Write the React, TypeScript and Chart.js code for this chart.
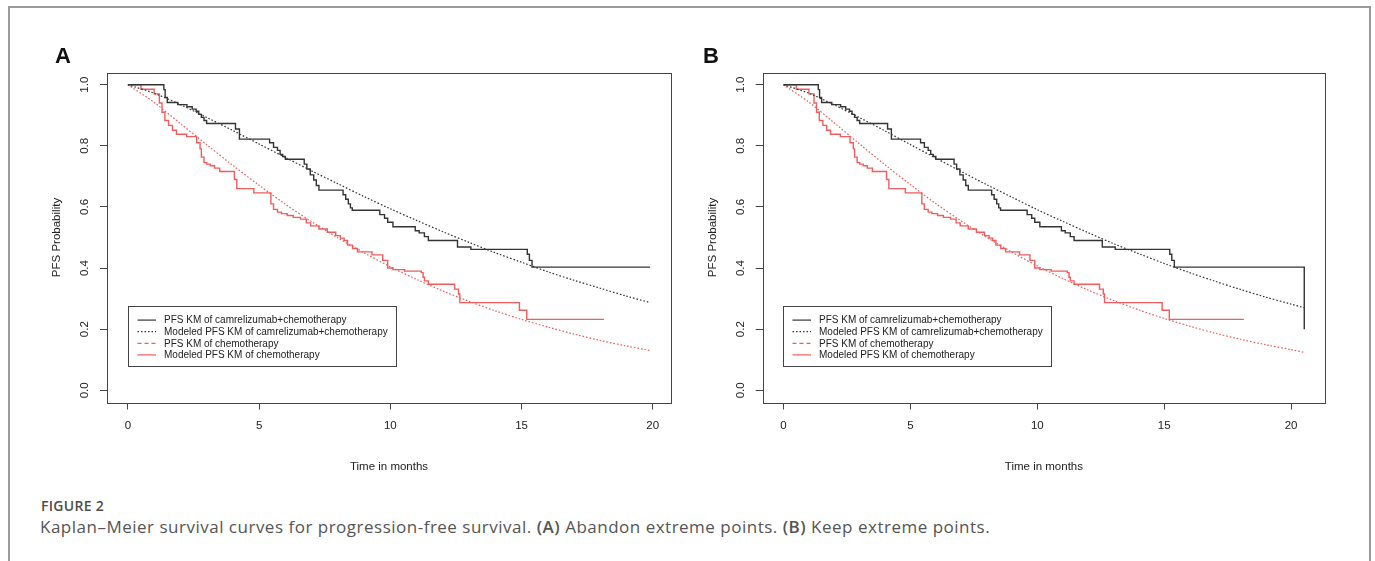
import React, { useEffect, useRef } from "react";
import { Chart, registerables } from "chart.js";

Chart.register(...registerables);

// ---------------- data ----------------
const kmMonthsCam = [0, 1.37, 1.42, 1.5, 1.9, 2.25, 2.45, 2.6, 2.7, 2.8, 2.9, 3.0, 4.1, 4.25, 5.4, 5.55, 5.7, 5.8, 5.9, 6.0, 6.72, 6.82, 6.95, 7.08, 7.18, 7.28, 8.2, 8.3, 8.4, 8.48, 8.55, 9.6, 9.78, 9.9, 10.1, 10.95, 11.1, 11.3, 11.45, 12.56, 13.07, 15.22, 15.3, 15.4];
const kmSurvCam = [1, 0.984, 0.958, 0.942, 0.935, 0.928, 0.92, 0.913, 0.903, 0.893, 0.883, 0.873, 0.855, 0.822, 0.81, 0.795, 0.785, 0.772, 0.765, 0.756, 0.74, 0.724, 0.705, 0.688, 0.67, 0.655, 0.64, 0.625, 0.61, 0.597, 0.589, 0.575, 0.563, 0.55, 0.535, 0.522, 0.515, 0.503, 0.49, 0.469, 0.461, 0.445, 0.425, 0.403];

const kmMonthsChemo = [0, 0.5, 1.0, 1.2, 1.3, 1.41, 1.55, 1.7, 1.85, 2.24, 2.62, 2.75, 2.8, 2.9, 3.0, 3.14, 3.3, 3.5, 4.06, 4.15, 4.8, 5.45, 5.55, 5.7, 5.85, 6.07, 6.3, 6.58, 6.8, 6.96, 7.28, 7.6, 7.92, 8.1, 8.24, 8.37, 8.56, 8.75, 9.3, 9.71, 9.9, 10.1, 10.55, 11.18, 11.25, 11.3, 11.45, 12.45, 12.6, 12.65, 14.92, 15.2];
const kmSurvChemo = [1, 0.985, 0.97, 0.94, 0.91, 0.883, 0.867, 0.851, 0.838, 0.83, 0.81, 0.79, 0.763, 0.745, 0.74, 0.735, 0.727, 0.716, 0.69, 0.66, 0.646, 0.61, 0.592, 0.583, 0.578, 0.572, 0.566, 0.56, 0.548, 0.538, 0.528, 0.517, 0.506, 0.498, 0.49, 0.475, 0.464, 0.453, 0.443, 0.425, 0.4, 0.395, 0.39, 0.385, 0.37, 0.358, 0.347, 0.331, 0.315, 0.287, 0.262, 0.232];

const lastFollowUpCamA = 19.9;
const lastFollowUpChemo = 18.14;
const extremeMonthB = 20.52;
const extremeSurvCamB = 0.2;

const modelMonthsA = [0, 1, 2, 3, 4, 5, 6, 7, 8, 9, 10, 11, 12, 13, 14, 15, 16, 17, 18, 19, 19.9];
const modelCamA = [1, 0.972, 0.935, 0.893, 0.85, 0.806, 0.762, 0.718, 0.676, 0.634, 0.594, 0.556, 0.519, 0.484, 0.45, 0.419, 0.388, 0.36, 0.334, 0.308, 0.287];
const modelChemoA = [1, 0.942, 0.873, 0.804, 0.736, 0.671, 0.609, 0.552, 0.499, 0.45, 0.404, 0.363, 0.325, 0.291, 0.26, 0.232, 0.207, 0.184, 0.163, 0.145, 0.13];

const modelMonthsB = [0, 1, 2, 3, 4, 5, 6, 7, 8, 9, 10, 11, 12, 13, 14, 15, 16, 17, 18, 19, 20, 20.52];
const modelCamB = [1, 0.972, 0.934, 0.892, 0.849, 0.804, 0.76, 0.716, 0.673, 0.632, 0.591, 0.553, 0.516, 0.48, 0.447, 0.415, 0.385, 0.357, 0.33, 0.305, 0.282, 0.27];
const modelChemoB = [1, 0.943, 0.875, 0.806, 0.738, 0.673, 0.611, 0.554, 0.501, 0.452, 0.407, 0.366, 0.328, 0.294, 0.263, 0.235, 0.21, 0.187, 0.167, 0.149, 0.133, 0.124];

const xTickValues = [0, 5, 10, 15, 20];
const yTickValues = [0, 0.2, 0.4, 0.6, 0.8, 1.0];
const yTickLabels = ["0.0", "0.2", "0.4", "0.6", "0.8", "1.0"];

const seriesLabels = [
  "PFS KM of camrelizumab+chemotherapy",
  "Modeled PFS KM of camrelizumab+chemotherapy",
  "PFS KM of chemotherapy",
  "Modeled PFS KM of chemotherapy",
];

// ---------------- styling ----------------
const BLACK = "#343434";
const RED = "#f25c5c";
const AXIS = "#444444";
const TEXT = "#222222";
const FONT = "'Liberation Sans', Arial, Helvetica, sans-serif";

const legendStyles = [
  { color: BLACK, dash: [] as number[], width: 1.2 },
  { color: BLACK, dash: [1.5, 2], width: 1.2 },
  { color: RED, dash: [4, 3], width: 1.2 },
  { color: RED, dash: [] as number[], width: 1.2 },
];

const toPoints = (xs: number[], ys: number[]) => xs.map((x, i) => ({ x, y: ys[i] }));

const decorPlugin = {
  id: "rDecor",
  afterDraw(chart: any) {
    const { ctx, chartArea: ca, scales } = chart;
    ctx.save();
    // plot box
    ctx.strokeStyle = AXIS;
    ctx.lineWidth = 1;
    ctx.setLineDash([]);
    ctx.strokeRect(Math.round(ca.left) + 0.5, Math.round(ca.top) + 0.5, Math.round(ca.right - ca.left), Math.round(ca.bottom - ca.top));

    // rotated y tick labels (R style)
    const ys = scales.y;
    ctx.fillStyle = TEXT;
    ctx.font = `11.5px ${FONT}`;
    ctx.textAlign = "center";
    ctx.textBaseline = "middle";
    yTickValues.forEach((v, i) => {
      const y = ys.getPixelForValue(v);
      ctx.save();
      ctx.translate(ca.left - 22, y);
      ctx.rotate(-Math.PI / 2);
      ctx.fillText(yTickLabels[i], 0, 0);
      ctx.restore();
    });

    // legend box
    const lx = Math.round(ca.left + 20.5) + 0.5;
    const ly = Math.round(ca.top + 233) + 0.5;
    const lw = 268;
    const lh = 60;
    ctx.strokeStyle = AXIS;
    ctx.lineWidth = 1;
    ctx.strokeRect(lx, ly, lw, lh);
    ctx.font = `10px ${FONT}`;
    ctx.textAlign = "left";
    ctx.textBaseline = "middle";
    chart.data.datasets.forEach((ds: any, i: number) => {
      const st = legendStyles[i];
      const cy = ly + 13.6 + i * 11.6;
      ctx.strokeStyle = st.color;
      ctx.lineWidth = st.width;
      ctx.setLineDash(st.dash);
      ctx.beginPath();
      ctx.moveTo(lx + 9, cy);
      ctx.lineTo(lx + 27.5, cy);
      ctx.stroke();
      ctx.setLineDash([]);
      ctx.fillStyle = TEXT;
      ctx.fillText(ds.label, lx + 35.5, cy + 0.5);
    });
    ctx.restore();
  },
};

type PanelProps = {
  keepExtreme: boolean;
  left: number;
  padLeft: number;
  padRight: number;
  xMin: number;
  xMax: number;
};

const CANVAS_W = 680;
const CANVAS_H = 490;

function Panel({ keepExtreme, left, padLeft, padRight, xMin, xMax }: PanelProps) {
  const ref = useRef<HTMLCanvasElement | null>(null);

  useEffect(() => {
    if (!ref.current) return;
    const camKM = toPoints(kmMonthsCam, kmSurvCam);
    if (keepExtreme) {
      camKM.push({ x: extremeMonthB, y: extremeSurvCamB });
    } else {
      camKM.push({ x: lastFollowUpCamA, y: kmSurvCam[kmSurvCam.length - 1] });
    }
    const chemoKM = toPoints(kmMonthsChemo, kmSurvChemo);
    chemoKM.push({ x: lastFollowUpChemo, y: kmSurvChemo[kmSurvChemo.length - 1] });
    const camModel = keepExtreme ? toPoints(modelMonthsB, modelCamB) : toPoints(modelMonthsA, modelCamA);
    const chemoModel = keepExtreme ? toPoints(modelMonthsB, modelChemoB) : toPoints(modelMonthsA, modelChemoA);

    const tickFont = { family: FONT, size: 11.5 };

    const chart = new Chart(ref.current, {
      type: "line",
      data: {
        datasets: [
          { label: seriesLabels[0], data: camKM, borderColor: BLACK, borderWidth: 1.4, stepped: "before", pointRadius: 0, fill: false },
          { label: seriesLabels[1], data: camModel, borderColor: BLACK, borderWidth: 1.2, borderDash: [1.6, 1.9], pointRadius: 0, fill: false, tension: 0.3 },
          { label: seriesLabels[2], data: chemoKM, borderColor: RED, borderWidth: 1.4, stepped: "before", pointRadius: 0, fill: false },
          { label: seriesLabels[3], data: chemoModel, borderColor: RED, borderWidth: 1.2, borderDash: [1.6, 1.9], pointRadius: 0, fill: false, tension: 0.3 },
        ],
      } as any,
      options: {
        animation: false,
        responsive: false,
        maintainAspectRatio: false,
        events: [],
        layout: { padding: { left: padLeft, right: padRight, top: 72.5, bottom: 16.4 } },
        plugins: { legend: { display: false }, tooltip: { enabled: false }, title: { display: false } },
        scales: {
          x: {
            type: "linear",
            min: xMin,
            max: xMax,
            afterBuildTicks: (scale: any) => {
              scale.ticks = xTickValues.map((v) => ({ value: v }));
            },
            grid: { display: true, drawOnChartArea: false, drawTicks: true, tickLength: 7, color: AXIS, lineWidth: 1 },
            border: { display: false },
            ticks: { font: tickFont, color: TEXT, padding: 9.8, maxRotation: 0, minRotation: 0, autoSkip: false, callback: (v: any) => String(v) },
            title: { display: true, text: "Time in months", font: tickFont, color: TEXT, padding: { top: 16.9, bottom: 0 } },
          },
          y: {
            type: "linear",
            min: -0.04,
            max: 1.04,
            afterBuildTicks: (scale: any) => {
              scale.ticks = yTickValues.map((v) => ({ value: v }));
            },
            grid: { display: true, drawOnChartArea: false, drawTicks: true, tickLength: 7, color: AXIS, lineWidth: 1 },
            border: { display: false },
            ticks: { display: false },
            title: { display: true, text: "PFS Probability", font: tickFont, color: TEXT, padding: { top: 0, bottom: 36.1 } },
          },
        },
      } as any,
      plugins: [decorPlugin],
    });
    return () => chart.destroy();
  }, [keepExtreme, padLeft, padRight, xMin, xMax]);

  return (
    <canvas
      ref={ref}
      width={CANVAS_W}
      height={CANVAS_H}
      style={{ position: "absolute", left, top: 0, width: CANVAS_W, height: CANVAS_H }}
    />
  );
}

export default function App() {
  return (
    <div style={{ position: "absolute", left: 0, top: 0, width: 1375, height: 561, overflow: "hidden", background: "#fff" }}>
      <div
        style={{
          position: "absolute",
          left: 8,
          top: 6,
          width: 1363,
          height: 640,
          boxSizing: "border-box",
          border: "2px solid #9a9a9a",
        }}
      />
      <Panel keepExtreme={false} left={0} padLeft={50.1} padRight={9} xMin={-0.796} xMax={20.696} />
      <Panel keepExtreme={true} left={680} padLeft={25.8} padRight={34.9} xMin={-0.821} xMax={21.341} />
      <div style={{ position: "absolute", left: 55, top: 45, font: `bold 22px ${FONT}`, lineHeight: "22px", color: "#111" }}>A</div>
      <div style={{ position: "absolute", left: 703, top: 45, font: `bold 22px ${FONT}`, lineHeight: "22px", color: "#111" }}>B</div>
      <div
        style={{
          position: "absolute",
          left: 41,
          top: 498.5,
          fontFamily: "'Open Sans', sans-serif",
          fontWeight: 600,
          fontSize: 14,
          lineHeight: "14px",
          letterSpacing: 0.3,
          color: "#4d4d4d",
          whiteSpace: "nowrap",
        }}
      >
        FIGURE 2
      </div>
      <div
        style={{
          position: "absolute",
          left: 40,
          top: 518,
          fontFamily: "'Open Sans', sans-serif",
          fontWeight: 400,
          fontSize: 17,
          lineHeight: "17px",
          letterSpacing: 0.5,
          color: "#555555",
          whiteSpace: "nowrap",
        }}
      >
        Kaplan–Meier survival curves for progression-free survival. <span style={{ fontWeight: 600 }}>(A)</span> Abandon extreme
        points. <span style={{ fontWeight: 600 }}>(B)</span> Keep extreme points.
      </div>
    </div>
  );
}
